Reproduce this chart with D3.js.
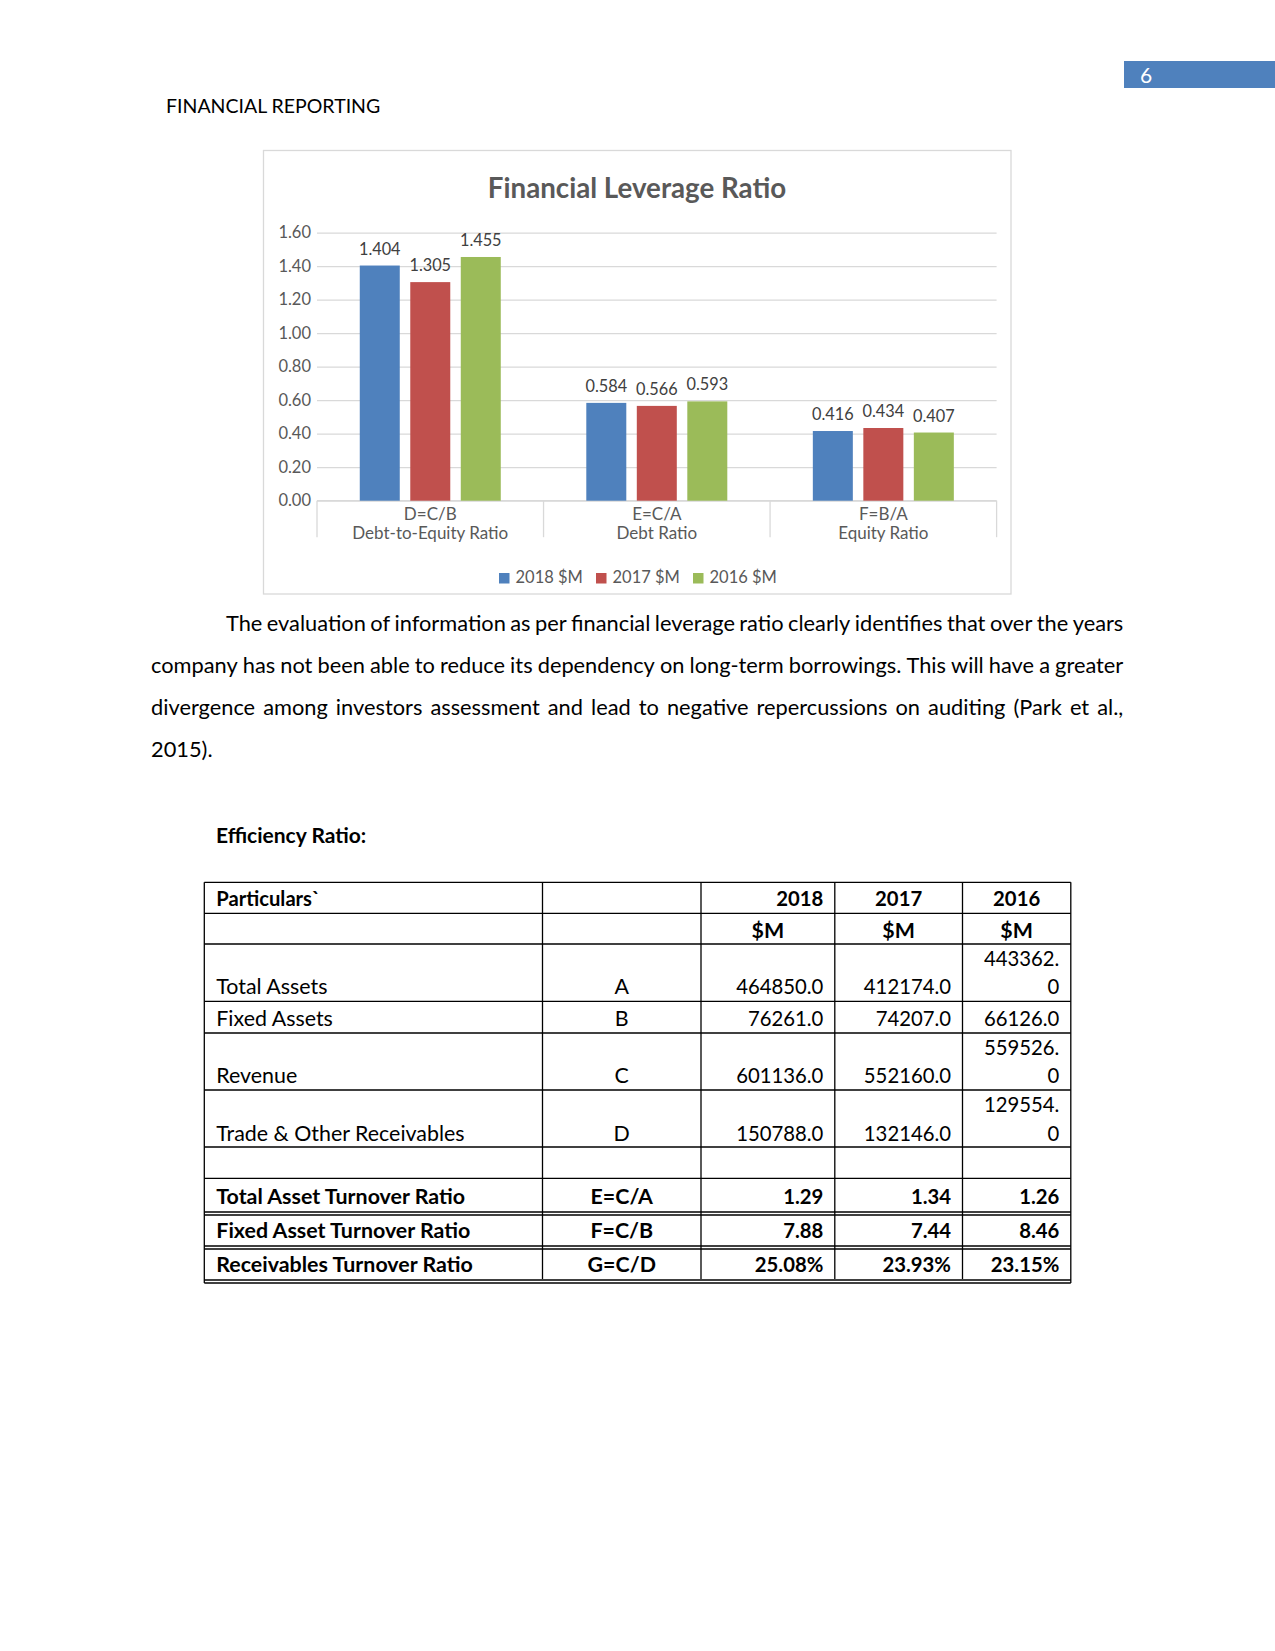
<!DOCTYPE html>
<html>
<head>
<meta charset="utf-8">
<script src="https://cdn.jsdelivr.net/npm/d3@7"></script>
<style>
  html, body { margin: 0; padding: 0; background: #fff; }
  svg { display: block; }
  text { font-family: Lato, "Noto Sans", sans-serif; }
</style>
</head>
<body>
<svg id="page" width="1275" height="1651"></svg>
<script>
// ---------------- DATA ----------------
const categoryCodes = ["D=C/B", "E=C/A", "F=B/A"];
const categoryNames = ["Debt-to-Equity Ratio", "Debt Ratio", "Equity Ratio"];
const seriesNames = ["2018 $M", "2017 $M", "2016 $M"];
const values2018 = [1.404, 0.584, 0.416];
const values2017 = [1.305, 0.566, 0.434];
const values2016 = [1.455, 0.593, 0.407];
const yTickValues = [0, 0.2, 0.4, 0.6, 0.8, 1.0, 1.2, 1.4, 1.6];
const seriesColors = ["#4f81bd", "#c0504d", "#9bbb59"];

const paragraphLines = [
  "The evaluation of information as per financial leverage ratio clearly identifies that over the years",
  "company has not been able to reduce its dependency on long-term borrowings. This will have a greater",
  "divergence among investors assessment and lead to negative repercussions on auditing (Park et al.,",
  "2015)."
];

const tableYears = ["2018", "2017", "2016"];
const itemLabels = ["Total Assets", "Fixed Assets", "Revenue", "Trade & Other Receivables"];
const itemCodes = ["A", "B", "C", "D"];
const totalAssets = [464850.0, 412174.0, 443362.0];
const fixedAssets = [76261.0, 74207.0, 66126.0];
const revenue = [601136.0, 552160.0, 559526.0];
const receivables = [150788.0, 132146.0, 129554.0];
const ratioLabels = ["Total Asset Turnover Ratio", "Fixed Asset Turnover Ratio", "Receivables Turnover Ratio"];
const ratioCodes = ["E=C/A", "F=C/B", "G=C/D"];
const totalAssetTurnover = [1.29, 1.34, 1.26];
const fixedAssetTurnover = [7.88, 7.44, 8.46];
const receivablesTurnoverPct = [25.08, 23.93, 23.15];

// ---------------- PAGE ----------------
const svg = d3.select("#page");

svg.append("rect").attr("x", 1124).attr("y", 61).attr("width", 151).attr("height", 27).attr("fill", "#4f81bd");
svg.append("text").attr("x", 1140).attr("y", 83).attr("fill", "#fff")
  .attr("font-size", 21).text("6");

svg.append("text").attr("x", 166).attr("y", 113.3).attr("font-size", 19.5).attr("fill", "#000")
  .text("FINANCIAL REPORTING");

// ---------------- CHART ----------------
const chart = svg.append("g");
chart.append("rect").attr("x", 263.5).attr("y", 150.5).attr("width", 747.5).attr("height", 443.5)
  .attr("fill", "#fff").attr("stroke", "#d9d9d9").attr("stroke-width", 1.3);

chart.append("text").attr("x", 637).attr("y", 198.3).attr("text-anchor", "middle")
  .attr("font-size", 27.7).attr("font-weight", "bold").attr("fill", "#595959")
  .text("Financial Leverage Ratio");

const plotL = 317, plotR = 996.6;
const y = d3.scaleLinear().domain([0, 1.6]).range([500.7, 232.7]);
const x0 = d3.scaleBand().domain(categoryCodes).range([plotL, plotR]).paddingInner(0).paddingOuter(0);
const bw = x0.bandwidth();
const x1 = d3.scaleBand().domain(seriesNames).range([bw / 2 - 70.5, bw / 2 + 70.5]).paddingInner(0.208).paddingOuter(0);

const yAxis = d3.axisLeft(y).tickValues(yTickValues).tickFormat(d3.format(".2f"))
  .tickSize(-(plotR - plotL)).tickPadding(6);
const gy = chart.append("g").attr("transform", `translate(${plotL},0)`).call(yAxis);
gy.select(".domain").remove();
gy.selectAll(".tick line").attr("stroke", "#d9d9d9").attr("stroke-width", 1.3);
gy.selectAll(".tick text").attr("font-size", 16.5).attr("fill", "#595959")
  .attr("font-family", "Lato, sans-serif").attr("x", -6);

const xAxis = d3.axisBottom(x0).tickSize(0).tickFormat("");
const gx = chart.append("g").attr("transform", `translate(0,${y(0)})`).call(xAxis);
gx.select(".domain").attr("stroke", "#d9d9d9").attr("stroke-width", 1.3).attr("d", `M${plotL},0H${plotR}`);
const boundaries = categoryCodes.map(c => x0(c)).concat([plotR]);
gx.selectAll(".cat-sep").data(boundaries).enter().append("line").attr("class", "cat-sep")
  .attr("x1", d => d).attr("x2", d => d).attr("y1", 0).attr("y2", 36.5)
  .attr("stroke", "#d9d9d9").attr("stroke-width", 1.3);
categoryCodes.forEach((c, i) => {
  const cx = x0(c) + bw / 2;
  chart.append("text").attr("x", cx).attr("y", 520).attr("text-anchor", "middle")
    .attr("font-size", 17).attr("fill", "#595959").text(c);
  chart.append("text").attr("x", cx).attr("y", 539).attr("text-anchor", "middle")
    .attr("font-size", 17).attr("fill", "#595959").text(categoryNames[i]);
});

const seriesValues = [values2018, values2017, values2016];
const barData = [];
categoryCodes.forEach((c, i) => seriesNames.forEach((s, j) => barData.push({ c, s, j, v: seriesValues[j][i] })));
const groups = chart.append("g");
groups.selectAll("rect.bar").data(barData).enter().append("rect").attr("class", "bar")
  .attr("x", d => x0(d.c) + x1(d.s)).attr("width", x1.bandwidth())
  .attr("y", d => y(d.v)).attr("height", d => y(0) - y(d.v))
  .attr("fill", d => seriesColors[d.j]);
groups.selectAll("text.lbl").data(barData).enter().append("text").attr("class", "lbl")
  .attr("x", d => x0(d.c) + x1(d.s) + x1.bandwidth() / 2).attr("y", d => y(d.v) - 11)
  .attr("text-anchor", "middle").attr("font-size", 16.3).attr("fill", "#404040")
  .text(d => d3.format(".3f")(d.v));

const legendX = [499, 596, 693];
seriesNames.forEach((s, j) => {
  chart.append("rect").attr("x", legendX[j]).attr("y", 573).attr("width", 10.5).attr("height", 10.5)
    .attr("fill", seriesColors[j]);
  chart.append("text").attr("x", legendX[j] + 16.5).attr("y", 583.3).attr("font-size", 16.5)
    .attr("fill", "#595959").text(s);
});

// ---------------- PARAGRAPH ----------------
const paraSize = 21.8;
const paraGeom = [
  { x0: 226, x1: 1123.3, y: 630.7, justify: true },
  { x0: 151, x1: 1123.3, y: 672.7, justify: true },
  { x0: 151, x1: 1123.3, y: 714.5, justify: true },
  { x0: 151, x1: 1123.3, y: 756.5, justify: false }
];
const para = svg.append("g");
paragraphLines.forEach((line, i) => {
  const g = paraGeom[i];
  const words = line.split(" ");
  const els = words.map(w => para.append("text").attr("font-size", paraSize).attr("fill", "#000").text(w));
  const widths = els.map(e => e.node().getComputedTextLength());
  const total = d3.sum(widths);
  const avail = g.x1 - g.x0;
  let gap = paraSize * 0.23;
  let scale = 1;
  if (g.justify) {
    gap = (avail - total) / (words.length - 1);
    if (gap < paraSize * 0.2) {
      gap = paraSize * 0.2;
      scale = (avail - gap * (words.length - 1)) / total;
    }
  }
  let cx = g.x0;
  els.forEach((e, k) => {
    const w = widths[k] * scale;
    e.attr("x", cx).attr("y", g.y);
    if (scale !== 1) e.attr("textLength", w).attr("lengthAdjust", "spacingAndGlyphs");
    cx += w + gap;
  });
});

svg.append("text").attr("x", 216).attr("y", 843).attr("font-size", 21).attr("font-weight", "bold")
  .attr("fill", "#000").text("Efficiency Ratio:");

// ---------------- TABLE ----------------
const tbl = svg.append("g");
const colX = [204.3, 542.5, 701, 834.8, 962.5, 1070.8];
const rowY = [882.3, 913.3, 944, 1001.3, 1033, 1090, 1147, 1178.3, 1212, 1246, 1280];
const fs = 21.4;
const fsNum = 20.3;
const pad = 11.5;
const lineW = 1.3;

rowY.forEach((yy, i) => {
  tbl.append("line").attr("x1", colX[0]).attr("x2", colX[5]).attr("y1", yy).attr("y2", yy)
    .attr("stroke", "#000").attr("stroke-width", lineW);
  if (i >= 8) {
    tbl.append("line").attr("x1", colX[0]).attr("x2", colX[5]).attr("y1", yy + 3).attr("y2", yy + 3)
      .attr("stroke", "#000").attr("stroke-width", lineW);
  }
});
colX.forEach((xx, i) => {
  const outer = (i === 0 || i === 5);
  tbl.append("line").attr("x1", xx).attr("x2", xx).attr("y1", rowY[0])
    .attr("y2", outer ? rowY[10] + 3 : rowY[10] - 1)
    .attr("stroke", "#000").attr("stroke-width", lineW);
});

function cellText(txt, col, yy, align, bold, size) {
  let xx, anchor;
  if (align === "left") { xx = colX[col] + 12; anchor = "start"; }
  else if (align === "center") { xx = (colX[col] + colX[col + 1]) / 2; anchor = "middle"; }
  else { xx = colX[col + 1] - pad; anchor = "end"; }
  tbl.append("text").attr("x", xx).attr("y", yy).attr("text-anchor", anchor)
    .attr("font-size", size || fs).attr("font-weight", bold ? "bold" : "normal").attr("fill", "#000").text(txt);
}

cellText("Particulars`", 0, 906, "left", true, 20.2);
cellText(tableYears[0], 2, 906, "right", true, fsNum);
cellText(tableYears[1], 3, 906, "center", true, fsNum);
cellText(tableYears[2], 4, 906, "center", true, fsNum);
[2, 3, 4].forEach(c => cellText("$M", c, 937.5, "center", true));

const itemValues = [totalAssets, fixedAssets, revenue, receivables];
const itemBaselines = [994, 1025.5, 1083, 1140.5];
itemLabels.forEach((lab, i) => {
  const by = itemBaselines[i];
  cellText(lab, 0, by, "left", false);
  cellText(itemCodes[i], 1, by, "center", false);
  itemValues[i].forEach((v, j) => {
    const s = v.toFixed(1);
    if (j === 2 && s.length >= 8) {
      cellText(s.slice(0, -1), 4, by - 28.5, "right", false, fsNum);
      cellText(s.slice(-1), 4, by, "right", false, fsNum);
    } else {
      cellText(s, 2 + j, by, "right", false, fsNum);
    }
  });
});

const ratioValues = [
  totalAssetTurnover.map(v => v.toFixed(2)),
  fixedAssetTurnover.map(v => v.toFixed(2)),
  receivablesTurnoverPct.map(v => v.toFixed(2) + "%")
];
const ratioBaselines = [1204.3, 1238.3, 1271.7];
ratioLabels.forEach((lab, i) => {
  const by = ratioBaselines[i];
  cellText(lab, 0, by, "left", true);
  cellText(ratioCodes[i], 1, by, "center", true);
  ratioValues[i].forEach((s, j) => cellText(s, 2 + j, by, "right", true, fsNum));
});
</script>
</body>
</html>
